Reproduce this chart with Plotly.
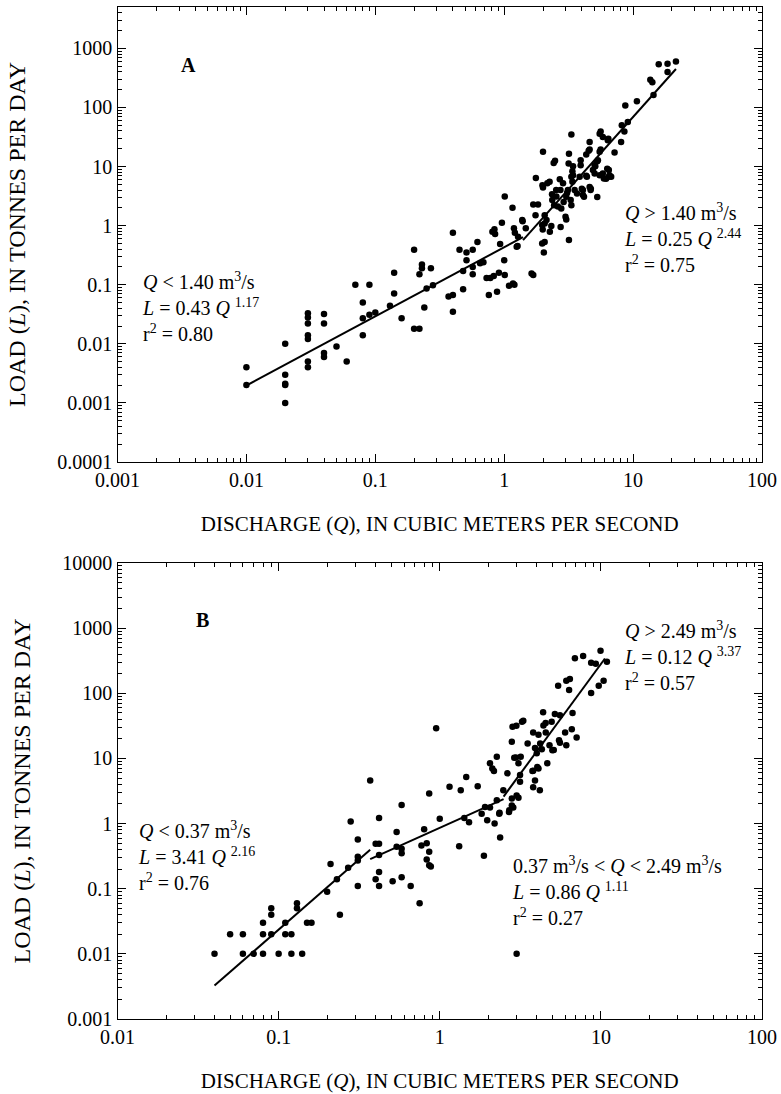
import plotly.graph_objects as go

# ---------------- data ----------------
# Panel A: discharge Q (m3/s) and load L (t/day)
a_q = [0.01, 0.01, 0.02, 0.02, 0.02, 0.02, 0.02, 0.03, 0.03, 0.03, 0.03, 0.03, 0.03, 0.03,
       0.04, 0.04, 0.04, 0.04, 0.05, 0.06, 0.07, 0.08, 0.08, 0.08, 0.09, 0.09, 0.1,
       0.13, 0.14, 0.14, 0.16, 0.2, 0.2, 0.22, 0.22, 0.23, 0.23, 0.24, 0.25, 0.27, 0.28,
       0.37, 0.4, 0.4, 0.4, 0.45, 0.48, 0.48, 0.51, 0.51, 0.57, 0.57, 0.57, 0.62, 0.65,
       0.69, 0.73, 0.76, 0.78, 0.83, 0.88, 0.91, 0.93, 1.0, 1.09, 1.17, 1.2, 0.81, 0.85,
       0.84, 0.96,
       1.01, 1.16, 1.19, 1.21, 1.28, 1.25, 1.01, 1.39, 1.47, 1.38, 1.27, 1.63, 1.68, 1.68,
       1.83, 1.75, 1.76, 2.0, 1.98, 2.0, 2.06, 2.13, 2.06, 1.97, 1.99, 1.97, 2.06, 2.03,
       2.26, 2.32, 2.16, 2.25, 2.42, 2.48, 2.36, 2.35, 2.54, 2.53, 2.44, 2.61, 2.77, 2.74,
       2.7, 2.73, 2.86, 2.89, 2.99, 3.03, 3.03, 3.08, 3.16, 3.18, 3.32, 3.12, 3.18, 3.38,
       3.32, 3.42, 3.42, 3.52, 3.38, 3.28, 3.32, 3.67, 3.92, 3.92, 3.85, 4.08, 4.08, 4.16,
       4.0, 4.38, 4.33, 4.33, 4.52, 4.6, 4.6, 4.6, 4.68, 4.7, 4.88, 5.03, 5.03, 5.09, 5.27,
       5.27, 5.33, 5.5, 5.6, 5.82, 5.5, 5.6, 5.5, 5.82, 5.93, 6.17, 6.3, 6.48, 6.48, 6.56,
       6.76, 6.36, 6.43, 7.18, 8.07, 8.17, 8.56, 9.1, 8.7, 10.7, 13.6, 14.1, 14.4, 15.8,
       18.5, 18.5, 21.5]
a_l = [0.004, 0.002, 0.01, 0.003, 0.002, 0.0021, 0.001, 0.033, 0.028, 0.022, 0.014, 0.012, 0.005, 0.004,
       0.032, 0.022, 0.007, 0.006, 0.009, 0.005, 0.1, 0.05, 0.027, 0.014, 0.1, 0.031, 0.034,
       0.044, 0.16, 0.071, 0.027, 0.39, 0.018, 0.15, 0.018, 0.22, 0.19, 0.041, 0.086, 0.19, 0.098,
       0.063, 0.067, 0.035, 0.76, 0.39, 0.17, 0.084, 0.35, 0.26, 0.39, 0.2, 0.15, 0.53, 0.23,
       0.24, 0.13, 0.067, 0.13, 0.14, 0.076, 0.16, 0.49, 0.26, 0.096, 0.105, 0.1, 0.79, 0.72,
       0.87, 1.12,
       3.1, 2.0, 0.9, 0.76, 0.65, 0.44, 0.146, 1.19, 0.9, 1.24, 0.45, 0.155, 0.146, 2.28,
       2.28, 1.5, 6.4, 17.7, 4.8, 4.4, 1.5, 1.24, 1.09, 1.02, 0.86, 0.5, 0.53, 0.35,
       0.79, 0.98, 5.2, 5.5, 11.5, 12.5, 2.7, 3.4, 3.1, 4.0, 2.2, 2.1, 1.95, 0.95,
       6.1, 4.0, 5.2, 2.5, 1.41, 3.07, 1.27, 3.6, 11.2, 16.5, 34.7, 4.0, 0.57, 8.3,
       6.7, 7.1, 10.1, 4.0, 5.5, 2.7, 2.22, 3.5, 10.5, 12.8, 6.7, 4.0, 3.3, 3.07,
       4.2, 6.7, 7.0, 16.0, 18.4, 26.0, 19.4, 4.5, 4.0, 4.2, 8.7, 10.5, 7.6, 10.1, 3.06,
       12.3, 12.8, 36.0, 39.0, 31.6, 17.7, 19.4, 7.1, 7.6, 6.25, 6.2, 9.2, 8.7, 6.7, 7.1,
       6.7, 27.8, 29.6, 17.2, 26.0, 49.8, 39.0, 56.6, 108.0, 127.0, 295.0, 266.0, 162.0, 540.0,
       550.0, 396.0, 600.0]

# Panel B
b_q = [0.04, 0.05, 0.06, 0.06, 0.07, 0.08, 0.08, 0.08, 0.09, 0.09, 0.09, 0.1, 0.11, 0.11,
       0.12, 0.12, 0.13, 0.13, 0.14, 0.15, 0.16, 0.2, 0.21, 0.23, 0.24, 0.27, 0.28, 0.31,
       0.31, 0.31, 0.31, 0.37, 0.4, 0.42, 0.42, 0.42, 0.42, 0.4, 0.42, 0.51, 0.54, 0.58,
       0.58, 0.58, 0.54, 0.58, 0.66, 0.75, 0.77, 0.8, 0.83, 0.83, 0.86, 0.88, 0.86, 0.86,
       0.95, 1.0, 1.15, 1.32, 1.35, 1.42, 1.52, 1.72, 1.46, 1.88, 1.91, 1.97, 2.05, 2.19,
       2.05, 2.12, 2.17, 2.26, 2.26, 2.34, 2.37, 2.48, 2.63, 2.69, 2.86, 2.97, 3.08, 3.15,
       3.15, 3.8, 4.03, 3.9, 3.8, 4.18, 4.65, 5.0, 3.0, 2.8, 2.7, 1.82, 2.35, 3.0, 2.8,
       2.8, 2.83, 2.99, 3.24, 3.3, 3.51, 3.8, 4.1, 4.4, 4.55, 4.54, 4.95, 4.38, 5.18, 5.57,
       3.9, 4.2, 4.3, 4.0, 4.8, 5.1, 5.57, 6.0, 6.6, 6.67, 7.07, 5.5, 6.1, 2.9, 3.76, 3.08,
       3.18, 4.1, 5.43, 6.1, 6.42, 6.35, 6.9, 7.76, 8.7, 9.3, 9.95, 10.9, 9.7, 10.4, 8.7]
b_l = [0.01, 0.02, 0.02, 0.01, 0.01, 0.03, 0.02, 0.01, 0.05, 0.04, 0.02, 0.01, 0.03, 0.02,
       0.02, 0.01, 0.06, 0.05, 0.01, 0.03, 0.03, 0.09, 0.24, 0.14, 0.04, 0.21, 1.08, 0.57,
       0.31, 0.27, 0.11, 4.6, 0.49, 0.49, 1.22, 0.33, 0.18, 0.14, 0.11, 0.13, 0.74, 1.93,
       0.41, 0.35, 0.44, 0.15, 0.11, 0.06, 0.46, 0.82, 0.5, 0.28, 0.37, 0.22, 0.23, 2.9,
       29.0, 1.19, 3.66, 0.45, 3.25, 1.22, 1.05, 3.75, 5.2, 0.32, 1.8, 1.12, 1.76, 1.0,
       8.4, 7.0, 6.4, 10.6, 2.28, 1.42, 0.61, 3.25, 5.9, 1.5, 1.76, 10.3, 2.5, 5.55,
       4.4, 6.45, 7.4, 4.6, 3.6, 3.25, 8.4, 13.4, 0.01, 1.9, 1.6, 1.42, 1.46, 2.7, 2.42,
       18.0, 30.6, 31.7, 36.6, 38.0, 17.0, 25.0, 23.0, 32.0, 25.0, 35.0, 36.6, 51.0, 48.0, 46.0,
       14.4, 17.0, 13.8, 12.0, 16.0, 13.5, 17.4, 25.0, 28.0, 50.0, 21.0, 19.0, 16.0, 10.2, 6.4, 8.4,
       10.6, 7.0, 130.0, 156.0, 166.0, 112.0, 345.0, 375.0, 295.0, 285.0, 448.0, 306.0, 130.0, 156.0, 101.0]

# fitted power-law segments (end points)
fit_a1_q = [0.01, 1.40];  fit_a1_l = [0.00197, 0.638]
fit_a2_q = [1.40, 21.5];  fit_a2_l = [0.568, 446.0]
fit_b1_q = [0.04, 0.37];  fit_b1_l = [0.00326, 0.398]
fit_b2_q = [0.37, 2.49];  fit_b2_l = [0.285, 2.37]
fit_b3_q = [2.49, 10.6];  fit_b3_l = [2.6, 342.0]

# tick labels
xa_ticks = [0.001, 0.01, 0.1, 1, 10, 100]
xa_text = ["0.001", "0.01", "0.1", "1", "10", "100"]
ya_ticks = [0.0001, 0.001, 0.01, 0.1, 1, 10, 100, 1000]
ya_text = ["0.0001", "0.001", "0.01", "0.1", "1", "10", "100", "1000"]
xb_ticks = [0.01, 0.1, 1, 10, 100]
xb_text = ["0.01", "0.1", "1", "10", "100"]
yb_ticks = [0.001, 0.01, 0.1, 1, 10, 100, 1000, 10000]
yb_text = ["0.001", "0.01", "0.1", "1", "10", "100", "1000", "10000"]

# ---------------- figure ----------------
W, H = 781, 1094
FONT = "Liberation Serif"


def px(x):
    return x / W


def py(y):
    return 1 - y / H


def minor_vals(lo, hi):
    return [k * 10.0 ** d for d in range(lo, hi) for k in range(2, 10)]


fig = go.Figure()
mk = dict(size=6.5, color="black")
ln = dict(color="black", width=2)
fig.add_trace(go.Scatter(x=a_q, y=a_l, mode="markers", marker=mk, xaxis="x", yaxis="y", showlegend=False))
fig.add_trace(go.Scatter(x=fit_a1_q, y=fit_a1_l, mode="lines", line=ln, xaxis="x", yaxis="y", showlegend=False))
fig.add_trace(go.Scatter(x=fit_a2_q, y=fit_a2_l, mode="lines", line=ln, xaxis="x", yaxis="y", showlegend=False))
fig.add_trace(go.Scatter(x=b_q, y=b_l, mode="markers", marker=mk, xaxis="x2", yaxis="y2", showlegend=False))
fig.add_trace(go.Scatter(x=fit_b1_q, y=fit_b1_l, mode="lines", line=ln, xaxis="x2", yaxis="y2", showlegend=False))
fig.add_trace(go.Scatter(x=fit_b2_q, y=fit_b2_l, mode="lines", line=ln, xaxis="x2", yaxis="y2", showlegend=False))
fig.add_trace(go.Scatter(x=fit_b3_q, y=fit_b3_l, mode="lines", line=ln, xaxis="x2", yaxis="y2", showlegend=False))


def axis(ticks, text, rng, domain, anchor, minor, title, title_size, standoff):
    return dict(
        type="log", range=rng, domain=domain, anchor=anchor,
        showgrid=False, zeroline=False, showline=True, linecolor="black", linewidth=1.3,
        mirror="ticks", ticks="inside", ticklen=8, tickwidth=1.2, tickcolor="black",
        tickmode="array", tickvals=ticks, ticktext=text,
        tickfont=dict(family=FONT, size=20, color="black"),
        minor=dict(ticks="inside", ticklen=4, tickwidth=1, tickcolor="black",
                   tickmode="array", tickvals=minor, showgrid=False),
        title=dict(text=title, font=dict(family=FONT, size=title_size, color="black"), standoff=standoff),
        automargin=False,
    )


xdom = [px(117.5), px(762)]
xtitle = "DISCHARGE (<i>Q</i>), IN CUBIC METERS PER SECOND"
ytitle = "LOAD (<i>L</i>), IN TONNES PER DAY"

fig.update_layout(
    width=W, height=H, margin=dict(l=0, r=0, t=0, b=0),
    paper_bgcolor="white", plot_bgcolor="white",
    font=dict(family=FONT, color="black"),
    xaxis=axis(xa_ticks, xa_text, [-3, 2], xdom, "y", minor_vals(-3, 2), xtitle, 21, 26),
    yaxis=axis(ya_ticks, ya_text, [-4, 3.699], [py(462), py(7)], "x", minor_vals(-4, 4), ytitle, 24, 24),
    xaxis2=axis(xb_ticks, xb_text, [-2, 2], xdom, "y2", minor_vals(-2, 2), xtitle, 21, 26),
    yaxis2=axis(yb_ticks, yb_text, [-3, 4], [py(1019), py(563)], "x2", minor_vals(-3, 4), ytitle, 24, 24),
)

ann_font = dict(family=FONT, size=20, color="black")


def block(x, y, text):
    fig.add_annotation(x=px(x), y=py(y), xref="paper", yref="paper", text=text,
                       showarrow=False, xanchor="left", yanchor="middle", align="left", font=ann_font)


block(140, 307, "<i>Q</i> &lt; 1.40 m<sup>3</sup>/s<br><i>L</i> = 0.43 <i>Q</i> <sup>1.17</sup><br>r<sup>2</sup> = 0.80")
block(622, 238, "<i>Q</i> &gt; 1.40 m<sup>3</sup>/s<br><i>L</i> = 0.25 <i>Q</i> <sup>2.44</sup><br>r<sup>2</sup> = 0.75")
block(622, 656, "<i>Q</i> &gt; 2.49 m<sup>3</sup>/s<br><i>L</i> = 0.12 <i>Q</i> <sup>3.37</sup><br>r<sup>2</sup> = 0.57")
block(136, 856, "<i>Q</i> &lt; 0.37 m<sup>3</sup>/s<br><i>L</i> = 3.41 <i>Q</i> <sup>2.16</sup><br>r<sup>2</sup> = 0.76")
block(510, 891, "0.37 m<sup>3</sup>/s &lt; <i>Q</i> &lt; 2.49 m<sup>3</sup>/s<br><i>L</i> = 0.86 <i>Q</i> <sup>1.11</sup><br>r<sup>2</sup> = 0.27")

for lab, x, y in [("A", 188, 65), ("B", 202, 620)]:
    fig.add_annotation(x=px(x), y=py(y), xref="paper", yref="paper", text="<b>%s</b>" % lab,
                       showarrow=False, xanchor="center", yanchor="middle",
                       font=dict(family=FONT, size=20, color="black"))

fig.write_html("out.html")
